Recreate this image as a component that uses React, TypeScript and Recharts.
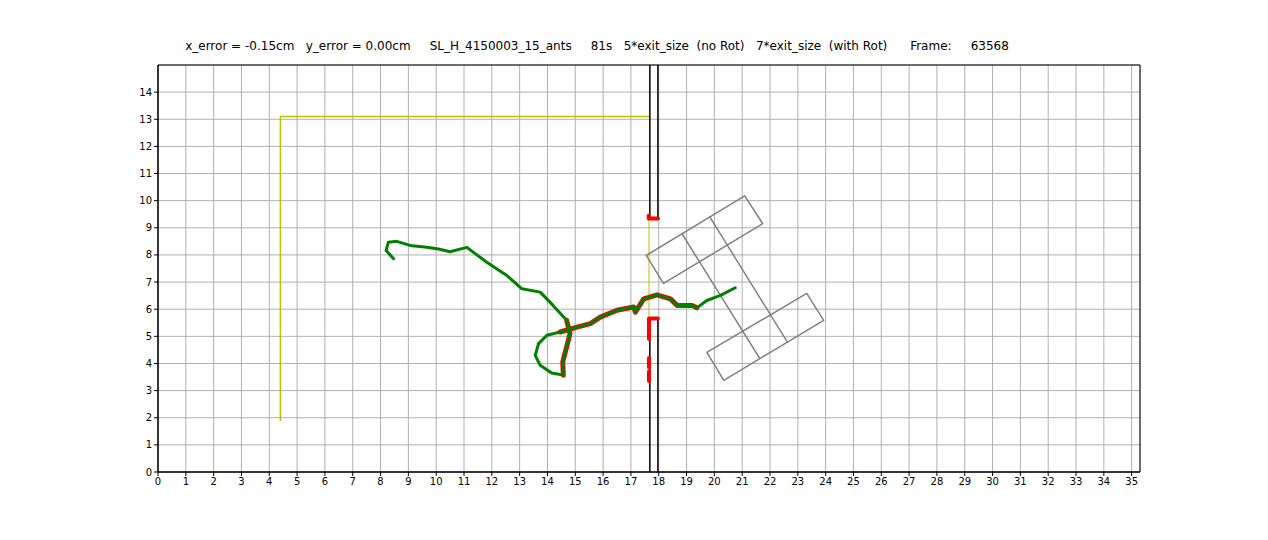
import { LineChart, Line, XAxis, YAxis, CartesianGrid, ReferenceArea } from 'recharts'

const xTicks = Array.from({ length: 36 }, (_, i) => i)
const yTicks = Array.from({ length: 15 }, (_, i) => i)

// ant trail (cm)
const trail = [
  { x: 8.47, y: 7.86 }, { x: 8.2, y: 8.16 }, { x: 8.28, y: 8.47 }, { x: 8.58, y: 8.5 },
  { x: 9.06, y: 8.35 }, { x: 9.66, y: 8.28 }, { x: 10.08, y: 8.22 }, { x: 10.5, y: 8.12 },
  { x: 11.1, y: 8.28 }, { x: 11.82, y: 7.73 }, { x: 12.54, y: 7.24 }, { x: 13.08, y: 6.75 },
  { x: 13.74, y: 6.63 }, { x: 14.2, y: 6.14 }, { x: 14.69, y: 5.59 }, { x: 14.81, y: 5.1 },
  { x: 14.69, y: 4.61 }, { x: 14.55, y: 4.06 }, { x: 14.57, y: 3.57 }, { x: 14.15, y: 3.65 },
  { x: 13.74, y: 3.93 }, { x: 13.56, y: 4.3 }, { x: 13.68, y: 4.73 }, { x: 13.98, y: 5.04 },
  { x: 14.46, y: 5.16 }, { x: 15.06, y: 5.34 }, { x: 15.54, y: 5.47 }, { x: 15.9, y: 5.71 },
  { x: 16.5, y: 5.96 }, { x: 17.1, y: 6.08 }, { x: 17.16, y: 5.89 }, { x: 17.46, y: 6.38 },
  { x: 17.94, y: 6.53 }, { x: 18.42, y: 6.38 }, { x: 18.66, y: 6.14 }, { x: 19.2, y: 6.14 },
  { x: 19.37, y: 6.05 }, { x: 19.73, y: 6.32 }, { x: 20.22, y: 6.51 }, { x: 20.75, y: 6.79 },
]
const redDescent = trail.slice(14, 19)
const redEast = trail.slice(24, 37)

const yellowFrame = [{ x: 4.4, y: 1.9 }, { x: 4.4, y: 13.1 }, { x: 17.65, y: 13.1 }]
const yellowGap = [{ x: 17.65, y: 9.34 }, { x: 17.65, y: 5.66 }]

const wallTop = [{ x: 17.68, y: 15 }, { x: 17.68, y: 9.34 }, { x: 17.97, y: 9.34 }, { x: 17.97, y: 15 }]
const wallBottom = [{ x: 17.68, y: 0 }, { x: 17.68, y: 5.66 }, { x: 17.97, y: 5.66 }, { x: 17.97, y: 0 }]

const redTop = [{ x: 17.64, y: 9.44 }, { x: 17.64, y: 9.34 }, { x: 17.97, y: 9.34 }]
const redBottom = [{ x: 17.97, y: 5.66 }, { x: 17.65, y: 5.66 }, { x: 17.65, y: 4.9 }]
const redDash1 = [{ x: 17.65, y: 4.2 }, { x: 17.65, y: 3.85 }]
const redDash2 = [{ x: 17.65, y: 3.7 }, { x: 17.65, y: 3.35 }]

// load shape
const rectTop = [
  { x: 17.55, y: 7.98 }, { x: 21.09, y: 10.18 }, { x: 21.74, y: 9.15 }, { x: 18.17, y: 6.95 }, { x: 17.55, y: 7.98 },
]
const rectBottom = [
  { x: 19.73, y: 4.41 }, { x: 23.32, y: 6.58 }, { x: 23.93, y: 5.59 }, { x: 20.34, y: 3.38 }, { x: 19.73, y: 4.41 },
]
const stem1 = [{ x: 18.83, y: 8.79 }, { x: 21.63, y: 4.19 }]
const stem2 = [{ x: 19.83, y: 9.41 }, { x: 22.63, y: 4.78 }]

const title =
  'x_error = -0.15cm   y_error = 0.00cm     SL_H_4150003_15_ants     81s   5*exit_size  (no Rot)   7*exit_size  (with Rot)      Frame:     63568'

const font = 'DejaVu Sans, sans-serif'

export default function App() {
  const seg = (data: { x: number; y: number }[], color: string, w: number, key: string) => (
    <Line
      key={key}
      data={data}
      dataKey="y"
      type="linear"
      stroke={color}
      strokeWidth={w}
      dot={false}
      activeDot={false}
      strokeLinejoin="round"
      strokeLinecap="round"
      isAnimationActive={false}
    />
  )

  return (
    <div style={{ position: 'absolute', left: 0, top: 0, width: 1268, height: 540, background: '#fff' }}>
      <div
        style={{
          position: 'absolute', top: 39, left: 0, width: 1194, textAlign: 'center',
          fontFamily: font, fontSize: 12, whiteSpace: 'pre',
        }}
      >
        {title}
      </div>
      <LineChart width={1268} height={540} margin={{ top: 65, right: 128, bottom: 0, left: 128 }}>
        <CartesianGrid stroke="#b0b0b0" strokeWidth={1} />
        <XAxis
          type="number" dataKey="x" domain={[0, 35.3]} ticks={xTicks} allowDataOverflow
          height={68} tickSize={4} stroke="#000" tick={{ fill: '#000', fontSize: 10, fontFamily: font }}
          interval={0}
        />
        <YAxis
          type="number" domain={[0, 15]} ticks={yTicks} allowDataOverflow
          width={30} tickSize={4} stroke="#000" tick={{ fill: '#000', fontSize: 10, fontFamily: font }}
          interval={0}
        />
        {seg(yellowFrame, '#bfbf00', 1.5, 'yf')}
        {seg(yellowGap, '#bfbf00', 1, 'yg')}
        {seg(rectTop, '#808080', 1.5, 'rt')}
        {seg(rectBottom, '#808080', 1.5, 'rb')}
        {seg(stem1, '#808080', 1.5, 's1')}
        {seg(stem2, '#808080', 1.5, 's2')}
        {seg(wallTop, '#000', 1.5, 'wt')}
        {seg(wallBottom, '#000', 1.5, 'wb')}
        {seg(redTop, '#ff0000', 4, 'r1')}
        {seg(redBottom, '#ff0000', 4, 'r2')}
        {seg(redDash1, '#ff0000', 4, 'r3')}
        {seg(redDash2, '#ff0000', 4, 'r4')}
        {seg(redDescent, '#ff0000', 5, 'r5')}
        {seg(redEast, '#ff0000', 5, 'r6')}
        {seg(trail, '#008000', 3, 'g')}
        <ReferenceArea x1={0} x2={35.3} y1={0} y2={15} fill="none" stroke="#000" strokeWidth={1} ifOverflow="visible" />
      </LineChart>
    </div>
  )
}
